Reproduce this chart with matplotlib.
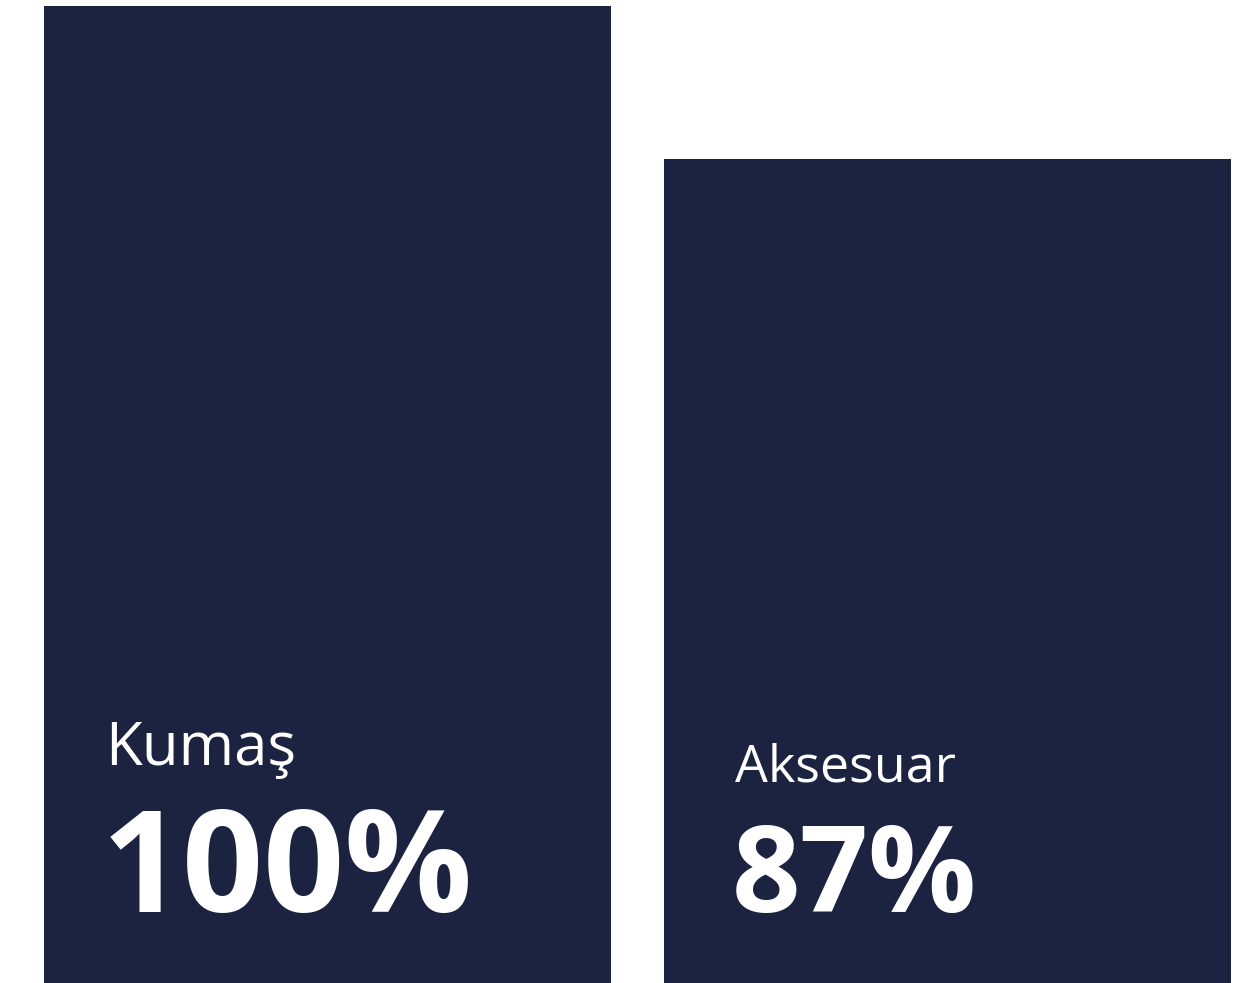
import matplotlib.pyplot as plt

# kategori ve oranlar
categories = ['Kumaş', 'Aksesuar']
values = [100, 87]
value_labels = ['100%', '87%']

bar_color = '#1b2341'

# dpi=72 -> 1 punto = 1 piksel
fig = plt.figure(figsize=(1245 / 72, 983 / 72), dpi=72)
ax = fig.add_axes([44 / 1245, 0, (1231 - 44) / 1245, (983 - 6) / 983])

width = 567 / 620
bars = ax.bar(range(len(values)), values, width=width, color=bar_color, bottom=0)
ax.set_xlim(-width / 2, len(values) - 1 + width / 2)
ax.set_ylim(17, 100)
ax.axis('off')

# etiket boyutlari (sol, sag)
name_size = [60, 52]
num_size = [142, 120]
name_off = [218, 202]
text_dx = [63, 73]

for i, b in enumerate(bars):
    x0 = b.get_x()
    ax.annotate(categories[i], xy=(x0, 17), xycoords='data',
                xytext=(text_dx[i] - 2, name_off[i]), textcoords='offset points',
                color='white', fontsize=name_size[i], family='Open Sans',
                ha='left', va='baseline')
    ax.annotate(value_labels[i], xy=(x0, 17), xycoords='data',
                xytext=(text_dx[i] - 5, 71), textcoords='offset points',
                color='white', fontsize=num_size[i], family='Open Sans',
                fontweight='bold', ha='left', va='baseline')

fig.savefig('out.png', dpi=72, facecolor='white')
